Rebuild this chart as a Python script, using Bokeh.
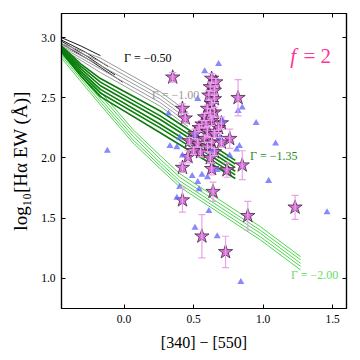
from bokeh.plotting import figure
from bokeh.models import (ColumnDataSource, Whisker, TeeHead, LinearAxis,
                          FixedTicker, PrintfTickFormatter, Range1d)
from bokeh.core.properties import value
from bokeh.embed import file_html
from bokeh.resources import INLINE

# ---------------- data ----------------
# model tracks, Gamma = -0.50 (black)
black_x = [[-0.45, -0.31, -0.17],
           [-0.45, -0.28, -0.115],
           [-0.45, -0.26, -0.065],
           [-0.45, -0.23, -0.01]]
black_y = [[3.00, 2.93, 2.85],
           [2.98, 2.88, 2.76],
           [2.97, 2.84, 2.69],
           [2.95, 2.80, 2.63]]

# Gamma = -1.00 (gray)
gray_xs = [-0.45, -0.17, 0.26, 0.46]
gray_y = [[2.95, 2.83, 2.55, 2.38],
          [2.94, 2.80, 2.52, 2.35],
          [2.93, 2.77, 2.49, 2.32],
          [2.92, 2.74, 2.46, 2.29],
          [2.91, 2.71, 2.43, 2.26]]

# Gamma = -1.35 (dark green)
dgreen_xs = [-0.45, -0.31, -0.17, 0.26, 0.80]
dgreen_y = [[2.93, 2.78, 2.66, 2.39, 1.98],
            [2.92, 2.76, 2.63, 2.35, 1.95],
            [2.91, 2.74, 2.60, 2.32, 1.92],
            [2.90, 2.72, 2.57, 2.28, 1.89],
            [2.89, 2.70, 2.54, 2.25, 1.86],
            [2.88, 2.68, 2.51, 2.21, 1.83]]

# Gamma = -2.00 (light green)
lgreen_xs = [-0.45, -0.17, 0.065, 0.26, 0.40, 0.98, 1.27]
lgreen_y = [[2.89, 2.55, 2.235, 2.02, 1.87, 1.43, 1.18],
            [2.88, 2.52, 2.21, 1.99, 1.84, 1.40, 1.155],
            [2.865, 2.49, 2.18, 1.96, 1.81, 1.375, 1.125],
            [2.85, 2.465, 2.15, 1.935, 1.785, 1.345, 1.10],
            [2.83, 2.44, 2.125, 1.91, 1.76, 1.32, 1.07]]

# galaxies (blue triangles)
tri_x = [-0.12, 0.32, 0.33, 0.68, 0.58, 0.85, 0.95, 1.09, 0.83, 0.81,
         0.71, 0.69, 1.04, 1.46, 0.61, 0.51, 0.67, 0.84, 0.42, 0.49,
         0.56, 0.60, 0.53, 0.54, 0.40, 0.38, 0.53, 0.82, 0.40, 0.38,
         0.67, 0.76, 0.63, 0.51]
tri_y = [2.06, 2.37, 2.10, 2.78, 2.72, 2.42, 2.29, 2.12, 2.10, 2.07,
         2.31, 2.17, 1.81, 1.55, 1.56, 1.42, 1.35, 0.97, 2.02, 1.85,
         1.86, 1.84, 1.80, 1.74, 1.76, 1.67, 2.49, 2.39, 2.17, 2.09,
         1.90, 2.02, 2.06, 2.19]

# galaxies (stars with errors)
star_x = [0.35, 0.82, 0.42, 0.44, 0.70, 0.76, 0.46, 0.42, 0.85, 0.64,
          0.42, 0.89, 0.56, 0.73, 1.23, 0.74, 0.63,
          0.63, 0.66, 0.62, 0.65, 0.61, 0.65, 0.63, 0.60, 0.65, 0.58,
          0.63, 0.56, 0.68, 0.54, 0.60, 0.65, 0.51, 0.58, 0.63, 0.53,
          0.70, 0.47, 0.60, 0.65, 0.55, 0.50, 0.62, 0.59, 0.62]
star_y = [2.67, 2.50, 2.41, 2.33, 2.29, 2.16, 2.01, 1.92, 1.94, 1.72,
          1.65, 1.52, 1.35, 1.22, 1.59, 1.90, 1.91,
          2.66, 2.63, 2.59, 2.56, 2.52, 2.49, 2.45, 2.41, 2.38, 2.34,
          2.31, 2.28, 2.25, 2.25, 2.22, 2.20, 2.20, 2.16, 2.13, 2.12,
          2.13, 2.14, 2.09, 2.05, 2.05, 2.06, 2.00, 2.28, 2.37]
star_err = [0.04, 0.15, 0.04, 0.04, 0.05, 0.08, 0.05, 0.04, 0.12, 0.08,
            0.10, 0.12, 0.18, 0.13, 0.10, 0.06, 0.05,
            0.04, 0.03, 0.04, 0.03, 0.04, 0.03, 0.04, 0.03, 0.04, 0.03,
            0.04, 0.03, 0.04, 0.03, 0.04, 0.03, 0.04, 0.03, 0.04, 0.03,
            0.04, 0.03, 0.04, 0.03, 0.04, 0.03, 0.04, 0.03, 0.04]

x_ticks = [0.0, 0.5, 1.0, 1.5]
y_ticks = [1.0, 1.5, 2.0, 2.5, 3.0]

SERIF = "Liberation Serif"

# ---------------- figure ----------------
p = figure(width=356, height=356, x_range=Range1d(-0.45, 1.6),
           y_range=Range1d(0.75, 3.2), output_backend="svg",
           toolbar_location=None, min_border_left=61, min_border_right=10,
           min_border_top=13, min_border_bottom=48)
p.grid.visible = False
p.outline_line_color = "black"
p.outline_line_width = 1.2
p.background_fill_color = "white"
p.border_fill_color = "white"


def style_axis(ax, ticks, show_labels=True):
    ax.ticker = FixedTicker(ticks=ticks)
    ax.major_tick_in = 4
    ax.major_tick_out = 0
    ax.major_tick_line_color = "black"
    ax.minor_tick_line_color = None
    ax.axis_line_color = "black"
    ax.axis_line_width = 1.2
    ax.major_label_text_font = SERIF
    ax.major_label_text_color = "black"
    if show_labels:
        ax.formatter = PrintfTickFormatter(format="%.1f")
        ax.major_label_text_font_size = "11.5px"
        ax.major_label_standoff = 6
    else:
        ax.major_label_overrides = {t: "" for t in ticks}
        ax.major_label_text_font_size = "1px"
        ax.major_label_standoff = 0


xa = p.xaxis[0]
ya = p.yaxis[0]
style_axis(xa, x_ticks)
style_axis(ya, y_ticks)
xa.axis_label = "[340] − [550]"
ya.axis_label = "log₁₀[Hα EW (Å)]"
for ax in (xa, ya):
    ax.axis_label_text_font = SERIF
    ax.axis_label_text_font_style = "normal"
    ax.axis_label_text_color = "black"
xa.axis_label_text_font_size = "16px"
ya.axis_label_text_font_size = "19px"
xa.axis_label_standoff = 8
ya.axis_label_standoff = 7

top_ax = LinearAxis()
style_axis(top_ax, x_ticks, show_labels=False)
right_ax = LinearAxis()
style_axis(right_ax, y_ticks, show_labels=False)
p.add_layout(top_ax, "above")
p.add_layout(right_ax, "right")

# ---------------- model tracks ----------------
for xs, ys in zip(black_x, black_y):
    p.line(xs, ys, line_color="#1a1a1a", line_width=1.0)
for ys in gray_y:
    p.line(gray_xs, ys, line_color="#999999", line_width=1.0)
for ys in lgreen_y:
    p.line(lgreen_xs, ys, line_color="#4fd44f", line_width=1.0)
for ys in dgreen_y:
    p.line(dgreen_xs, ys, line_color="#0a7d0a", line_width=1.6)

# ---------------- error bars + stars ----------------
err_src = ColumnDataSource(data=dict(
    x=star_x,
    upper=[y + e for y, e in zip(star_y, star_err)],
    lower=[y - e for y, e in zip(star_y, star_err)],
))
wh = Whisker(base="x", upper="upper", lower="lower", source=err_src,
             line_color="#e7a3e7", line_width=1.2,
             upper_head=TeeHead(size=7, line_color="#e7a3e7", line_width=1.2),
             lower_head=TeeHead(size=7, line_color="#e7a3e7", line_width=1.2))
wh.level = "glyph"
p.add_layout(wh)

p.scatter(star_x, star_y, marker="star", size=15, fill_color="#d466d4",
          fill_alpha=0.9, line_color="#4d1f4d", line_width=0.8)

p.scatter(tri_x, tri_y, marker="triangle", size=7, fill_color="#6a6aff",
          fill_alpha=0.8, line_color=None)

# ---------------- labels ----------------
p.text(x=[0.0], y=[2.83], text=["Γ = −0.50"], text_font=value(SERIF),
       text_font_size="12px", text_color="black", text_baseline="middle",
       text_align="left")
p.text(x=[0.20], y=[2.52], text=["Γ = −1.00"], text_font=value(SERIF),
       text_font_size="12px", text_color="#9a9a9a", text_baseline="middle",
       text_align="left")
p.text(x=[0.906], y=[2.02], text=["Γ = −1.35"], text_font=value(SERIF),
       text_font_size="12px", text_color="#1f8a1f", text_baseline="middle",
       text_align="left")
p.text(x=[1.20], y=[1.03], text=["Γ = −2.00"], text_font=value(SERIF),
       text_font_size="12px", text_color="#66dd66", text_baseline="middle",
       text_align="left")
p.text(x=[1.195], y=[2.85], text=["f"], text_font=value(SERIF),
       text_font_size="21px", text_font_style="italic", text_color="#ff3399",
       text_baseline="middle", text_align="left")
p.text(x=[1.29], y=[2.85], text=["= 2"], text_font=value(SERIF),
       text_font_size="21px", text_color="#ff3399",
       text_baseline="middle", text_align="left")

open("out.html", "w").write(file_html(p, INLINE))
